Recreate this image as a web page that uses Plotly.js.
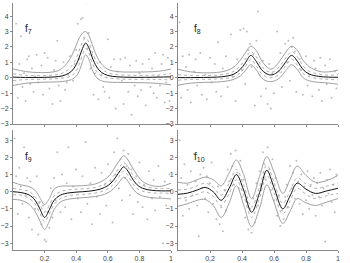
<!DOCTYPE html>
<html><head><meta charset="utf-8">
<script src="https://cdn.plot.ly/plotly-3.0.1.min.js"></script>
<style>html,body{margin:0;padding:0;background:#fff}#c{width:350px;height:263px}</style>
</head><body><div id="c"></div>
<script>
// ---- panel labels
const labels = ["7","8","9","10"];
const xTicks = [0.2,0.4,0.6,0.8,1];
const xTickText = ["0.2","0.4","0.6","0.8","1"];
const yTicksTop = [-3,-2,-1,0,1,2,3,4];
const yTicksBot = [-3,-2,-1,0,1,2,3];

// ---- f7
const x7 = [0,0.08,0.16,0.24,0.29,0.33,0.37,0.40,0.42,0.44,0.46,0.48,0.50,0.53,0.56,0.60,0.66,0.74,0.84,0.92,1];
const m7 = [0.04,0.02,0.02,0.04,0.08,0.18,0.42,0.85,1.35,1.9,2.25,1.95,1.35,0.7,0.35,0.15,0.06,0.03,0.03,0.04,0.06];
const u7 = [0.58,0.4,0.34,0.36,0.48,0.8,1.4,2.1,2.6,2.9,3.0,2.75,2.2,1.4,0.9,0.55,0.4,0.37,0.38,0.42,0.56];
const l7 = [-0.5,-0.36,-0.3,-0.28,-0.26,-0.22,-0.12,0.1,0.45,1.05,1.5,1.2,0.55,0.0,-0.2,-0.28,-0.3,-0.31,-0.33,-0.37,-0.46];
const du7 = [0.26,0.16,0.14,0.16,0.22,0.38,0.75,1.25,1.8,2.3,2.6,2.3,1.72,1.02,0.6,0.32,0.2,0.16,0.16,0.18,0.26];
const dl7 = [-0.18,-0.12,-0.1,-0.08,-0.05,0.0,0.12,0.45,0.9,1.5,1.9,1.6,1.0,0.4,0.12,0.0,-0.07,-0.1,-0.1,-0.11,-0.14];
const pts7 = [[0.02,3.5],[0.03,-1.3],[0.04,0.9],[0.05,2.7],[0.06,-0.6],[0.07,0.3],[0.08,-1.5],[0.09,1.2],[0.1,1.4],[0.11,-0.4],[0.12,0.6],[0.13,-0.9],[0.14,0.1],[0.15,1.5],[0.16,-0.3],[0.18,0.8],[0.19,-1.1],[0.2,1.6],[0.22,1.3],[0.23,-0.7],[0.25,-1.7],[0.26,0.5],[0.27,1.1],[0.28,2.4],[0.29,-0.5],[0.3,-1.5],[0.32,1.0],[0.33,-0.8],[0.34,-0.3],[0.35,0.2],[0.36,1.4],[0.38,-0.2],[0.39,0.9],[0.4,1.8],[0.41,3.5],[0.42,1.2],[0.43,3.8],[0.44,3.9],[0.45,2.6],[0.46,4.9],[0.47,1.9],[0.48,2.9],[0.49,0.6],[0.5,1.5],[0.51,-1.1],[0.52,0.3],[0.54,-1.4],[0.55,1.0],[0.56,0.2],[0.57,-0.6],[0.58,-0.9],[0.6,2.5],[0.61,-1.3],[0.62,0.7],[0.64,1.2],[0.65,-2.0],[0.66,0.4],[0.68,1.2],[0.69,-0.2],[0.7,-1.7],[0.71,1.3],[0.73,-0.9],[0.74,0.8],[0.75,-2.4],[0.77,-0.5],[0.78,1.1],[0.79,-1.2],[0.8,0.3],[0.81,-0.8],[0.82,0.9],[0.84,-1.8],[0.86,1.2],[0.87,-0.6],[0.88,0.6],[0.89,-1.0],[0.9,1.6],[0.91,-1.3],[0.92,0.1],[0.93,-0.5],[0.94,0.9],[0.95,1.5],[0.96,-1.6],[0.97,-0.3],[0.98,1.3],[0.99,-1.5]];

// ---- f8
const x8 = [0,0.08,0.16,0.24,0.3,0.35,0.39,0.42,0.455,0.49,0.52,0.55,0.58,0.61,0.64,0.67,0.71,0.75,0.78,0.82,0.88,0.94,1];
const m8 = [0.01,0.01,0.02,0.04,0.1,0.24,0.55,0.95,1.45,1.05,0.55,0.28,0.18,0.28,0.55,0.98,1.45,1.02,0.55,0.24,0.09,0.04,0.03];
const u8 = [0.55,0.38,0.32,0.34,0.45,0.7,1.15,1.6,2.05,1.75,1.15,0.75,0.56,0.75,1.15,1.6,2.05,1.72,1.15,0.72,0.42,0.38,0.5];
const l8 = [-0.48,-0.35,-0.3,-0.28,-0.22,-0.1,0.12,0.45,0.85,0.5,0.02,-0.2,-0.25,-0.18,0.03,0.42,0.85,0.48,0.02,-0.2,-0.3,-0.34,-0.42];
const du8 = [0.2,0.14,0.14,0.17,0.25,0.42,0.78,1.2,1.7,1.35,0.8,0.47,0.36,0.47,0.8,1.22,1.7,1.3,0.8,0.42,0.24,0.17,0.2];
const dl8 = [-0.16,-0.11,-0.1,-0.08,-0.04,0.06,0.32,0.7,1.2,0.75,0.3,0.08,0.0,0.08,0.3,0.72,1.2,0.75,0.3,0.06,-0.06,-0.1,-0.14];
const pts8 = [[0.01,3.6],[0.02,-1.3],[0.03,1.4],[0.05,0.7],[0.06,-0.8],[0.07,1.5],[0.08,-1.6],[0.1,0.4],[0.11,1.2],[0.12,-0.5],[0.14,1.6],[0.15,-1.1],[0.17,0.2],[0.18,-1.4],[0.2,1.3],[0.21,-0.3],[0.23,0.9],[0.24,-0.9],[0.25,2.3],[0.27,-1.2],[0.28,0.6],[0.3,1.4],[0.31,-0.6],[0.33,2.8],[0.34,0.1],[0.36,-1.5],[0.37,1.2],[0.39,3.1],[0.4,0.5],[0.41,3.2],[0.42,-0.4],[0.43,3.0],[0.44,1.8],[0.45,2.2],[0.46,0.7],[0.47,1.5],[0.48,-1.8],[0.49,2.4],[0.5,4.3],[0.51,0.2],[0.52,-1.2],[0.53,1.1],[0.55,-0.7],[0.56,-1.7],[0.57,0.9],[0.58,-2.0],[0.59,0.3],[0.6,-1.0],[0.62,3.0],[0.63,0.4],[0.64,1.6],[0.65,-0.6],[0.67,2.2],[0.68,1.0],[0.69,2.4],[0.7,-0.2],[0.71,2.0],[0.72,2.6],[0.73,1.7],[0.74,-0.9],[0.76,1.2],[0.77,0.5],[0.78,-1.1],[0.8,1.4],[0.81,-0.5],[0.82,0.2],[0.84,-1.2],[0.85,1.1],[0.86,0.6],[0.88,-0.8],[0.89,1.3],[0.9,-1.5],[0.92,0.8],[0.93,-0.4],[0.95,1.2],[0.96,-1.3],[0.98,0.4],[0.99,-0.7]];

// ---- f9
const x9 = [0,0.05,0.1,0.14,0.17,0.2,0.23,0.26,0.3,0.36,0.44,0.52,0.58,0.62,0.65,0.68,0.7,0.72,0.75,0.78,0.82,0.88,0.94,1];
const m9 = [0.0,-0.05,-0.18,-0.5,-1.0,-1.5,-1.05,-0.5,-0.2,-0.06,0.0,0.08,0.25,0.5,0.85,1.25,1.45,1.3,0.85,0.45,0.2,0.08,0.05,0.05];
const u9 = [0.55,0.4,0.3,0.08,-0.35,-0.75,-0.4,0.15,0.32,0.33,0.35,0.45,0.7,1.05,1.5,1.9,2.1,1.95,1.5,1.05,0.6,0.35,0.32,0.5];
const l9 = [-0.45,-0.5,-0.72,-1.15,-1.7,-2.2,-1.72,-1.05,-0.6,-0.42,-0.35,-0.28,-0.15,0.05,0.3,0.65,0.85,0.7,0.3,-0.05,-0.25,-0.35,-0.38,-0.42];
const du9 = [0.2,0.12,0.02,-0.3,-0.75,-1.2,-0.8,-0.25,0.0,0.12,0.17,0.25,0.45,0.72,1.1,1.5,1.7,1.55,1.1,0.7,0.38,0.22,0.18,0.2];
const dl9 = [-0.18,-0.2,-0.38,-0.72,-1.25,-1.75,-1.3,-0.75,-0.4,-0.22,-0.16,-0.08,0.07,0.3,0.6,1.0,1.2,1.05,0.6,0.22,0.03,-0.07,-0.08,-0.1];
const pts9 = [[0.01,3.1],[0.02,0.9],[0.03,-1.3],[0.04,1.4],[0.05,0.3],[0.06,-0.7],[0.07,2.6],[0.08,-0.2],[0.09,0.8],[0.1,-1.5],[0.11,0.6],[0.12,-2.2],[0.13,-0.3],[0.14,-1.0],[0.15,0.9],[0.16,-2.5],[0.17,-0.6],[0.18,-1.9],[0.19,-0.8],[0.2,-2.8],[0.21,-2.9],[0.22,-1.2],[0.23,-2.1],[0.24,0.2],[0.25,-1.5],[0.26,0.8],[0.27,-0.5],[0.28,2.3],[0.3,-1.2],[0.31,1.0],[0.33,-0.9],[0.34,0.5],[0.35,2.6],[0.37,-1.6],[0.38,0.3],[0.4,1.3],[0.41,-0.4],[0.43,-1.2],[0.44,0.9],[0.46,2.9],[0.47,-0.7],[0.49,0.5],[0.5,-1.9],[0.52,1.4],[0.53,-0.3],[0.55,-1.3],[0.56,1.1],[0.58,0.4],[0.59,-0.8],[0.6,1.6],[0.62,0.6],[0.63,-1.8],[0.64,2.3],[0.65,1.0],[0.66,3.1],[0.67,0.2],[0.68,1.9],[0.69,-0.5],[0.7,2.4],[0.71,0.8],[0.72,1.5],[0.73,2.2],[0.74,-0.2],[0.75,1.3],[0.76,-1.3],[0.78,0.9],[0.79,-0.6],[0.8,1.7],[0.82,-0.9],[0.83,0.4],[0.85,-1.6],[0.86,1.2],[0.88,-0.4],[0.89,0.7],[0.9,-1.1],[0.92,1.5],[0.93,-0.3],[0.95,-3.0],[0.96,0.6],[0.97,-0.8],[0.99,1.0]];

// ---- f10
const x10 = [0,0.06,0.12,0.17,0.22,0.27,0.32,0.365,0.41,0.46,0.51,0.555,0.6,0.655,0.7,0.745,0.8,0.86,0.93,1];
const m10 = [-0.15,-0.08,0.1,0.25,0.0,-0.5,0.2,1.0,0.1,-1.2,-0.05,1.25,0.25,-1.0,-0.25,0.5,0.15,-0.1,0.05,0.2];
const u10 = [0.55,0.5,0.7,0.85,0.7,0.35,1.1,1.85,1.0,-0.4,0.9,2.05,1.15,-0.1,0.7,1.5,0.95,0.55,0.65,0.95];
const l10 = [-0.85,-0.7,-0.5,-0.45,-0.8,-1.5,-0.65,0.35,-0.75,-2.05,-0.95,0.4,-0.6,-1.85,-1.15,-0.4,-0.65,-0.8,-0.6,-0.4];
const du10 = [0.1,0.15,0.35,0.5,0.27,-0.2,0.5,1.3,0.4,-0.9,0.28,1.55,0.55,-0.7,0.05,0.8,0.45,0.2,0.33,0.5];
const dl10 = [-0.4,-0.32,-0.15,0.0,-0.27,-0.8,-0.1,0.7,-0.2,-1.5,-0.35,0.95,-0.05,-1.3,-0.55,0.2,-0.15,-0.4,-0.23,-0.1];
const pts10 = [[0.01,3.0],[0.02,0.8],[0.03,-1.4],[0.04,1.6],[0.05,-0.5],[0.06,0.4],[0.07,-1.0],[0.08,1.2],[0.09,-0.2],[0.1,2.2],[0.11,0.6],[0.12,-0.8],[0.13,-2.6],[0.14,1.0],[0.15,0.2],[0.16,1.4],[0.17,-0.4],[0.18,0.9],[0.19,-1.2],[0.2,0.5],[0.21,1.7],[0.22,-0.7],[0.24,-1.6],[0.25,0.3],[0.26,-1.9],[0.27,-0.9],[0.28,-2.3],[0.29,0.1],[0.3,-1.1],[0.31,1.3],[0.32,0.6],[0.33,2.2],[0.34,1.5],[0.35,0.4],[0.36,2.4],[0.37,1.1],[0.38,0.2],[0.39,1.8],[0.4,-0.3],[0.41,0.7],[0.42,-1.5],[0.43,-0.6],[0.44,-2.2],[0.45,-1.0],[0.46,-2.4],[0.47,-0.4],[0.48,-1.8],[0.49,0.5],[0.5,-0.8],[0.51,1.2],[0.52,0.3],[0.53,2.3],[0.54,1.6],[0.55,0.7],[0.56,2.6],[0.57,1.3],[0.58,0.1],[0.59,1.9],[0.6,-0.5],[0.61,0.8],[0.62,-1.4],[0.63,-0.2],[0.64,-2.0],[0.65,-1.1],[0.66,-1.6],[0.67,-0.3],[0.68,0.4],[0.69,-0.9],[0.7,1.5],[0.71,0.2],[0.72,1.1],[0.73,-0.4],[0.74,1.8],[0.75,0.6],[0.76,-0.7],[0.77,1.0],[0.78,-1.3],[0.79,0.3],[0.8,-0.5],[0.81,1.2],[0.82,-1.0],[0.83,0.4],[0.84,-0.2],[0.85,0.8],[0.86,-1.4],[0.87,0.5],[0.88,-0.3],[0.89,1.1],[0.9,-0.8],[0.91,0.2],[0.92,-2.9],[0.93,0.7],[0.94,-0.1],[0.95,1.3],[0.96,-0.6],[0.97,0.4],[0.98,-1.2],[0.99,1.0]];

const panels = [
  {x:x7,m:m7,u:u7,l:l7,du:du7,dl:dl7,pts:pts7,xa:'x',ya:'y'},
  {x:x8,m:m8,u:u8,l:l8,du:du8,dl:dl8,pts:pts8,xa:'x2',ya:'y2'},
  {x:x9,m:m9,u:u9,l:l9,du:du9,dl:dl9,pts:pts9,xa:'x3',ya:'y3'},
  {x:x10,m:m10,u:u10,l:l10,du:du10,dl:dl10,pts:pts10,xa:'x4',ya:'y4'}
];

const traces = [];
panels.forEach(p => {
  traces.push({type:'scatter',mode:'markers',x:p.pts.map(d=>d[0]),y:p.pts.map(d=>d[1]),
    xaxis:p.xa,yaxis:p.ya,marker:{size:2,color:'#bdbdbd'},hoverinfo:'skip'});
  const ln = (y,color,dash,w)=>({type:'scatter',mode:'lines',x:p.x,y:y,xaxis:p.xa,yaxis:p.ya,
    line:{color:color,dash:dash,width:w,shape:'spline',smoothing:1},hoverinfo:'skip'});
  traces.push(ln(p.u,'#a0a0a0','solid',1));
  traces.push(ln(p.l,'#a0a0a0','solid',1));
  traces.push(ln(p.du,'#999','dot',0.8));
  traces.push(ln(p.dl,'#999','dot',0.8));
  traces.push(ln(p.m,'#111','solid',1));
});

const fnt = {family:'Liberation Sans, Arial, sans-serif',size:7,color:'#444'};
function xax(dom,anchor,labels){
  return {domain:dom,anchor:anchor,range:[0,1],showgrid:false,zeroline:false,showline:true,
    linecolor:'#888',linewidth:1,ticks:'outside',ticklen:2,tickcolor:'#888',
    tickvals:xTicks,ticktext:xTickText,showticklabels:labels,tickfont:fnt};
}
function yax(dom,anchor,range,tv){
  return {domain:dom,anchor:anchor,range:range,showgrid:false,zeroline:false,showline:true,
    linecolor:'#888',linewidth:1,ticks:'outside',ticklen:2,tickcolor:'#888',
    tickvals:tv,tickfont:fnt};
}
const L = [13/350,171/350], R = [178/350,338/350];
const T = [1-124/263,1-3/263], B = [1-250/263,1-130/263];
const layout = {
  width:350,height:263,margin:{l:0,r:0,t:0,b:0},paper_bgcolor:'#fff',plot_bgcolor:'rgba(0,0,0,0)',
  showlegend:false,
  xaxis:xax(L,'y',false), yaxis:yax(T,'x',[-3,4.85],yTicksTop),
  xaxis2:xax(R,'y2',false), yaxis2:yax(T,'x2',[-3,4.85],yTicksTop),
  xaxis3:xax(L,'y3',true), yaxis3:yax(B,'x3',[-3.4,3.6],yTicksBot),
  xaxis4:xax(R,'y4',true), yaxis4:yax(B,'x4',[-3.4,3.6],yTicksBot),
  annotations:[
    {pos:[23,21]},{pos:[192,21]},{pos:[23,149]},{pos:[192,149]}
  ].map((a,i)=>({xref:'paper',yref:'paper',x:a.pos[0]/350,y:1-a.pos[1]/263,xanchor:'left',yanchor:'top',
    text:'f<sub>'+labels[i]+'</sub>',showarrow:false,font:{family:'Liberation Sans, Arial, sans-serif',size:10,color:'#222'}}))
};
Plotly.newPlot('c',traces,layout,{staticPlot:true});
</script></body></html>
